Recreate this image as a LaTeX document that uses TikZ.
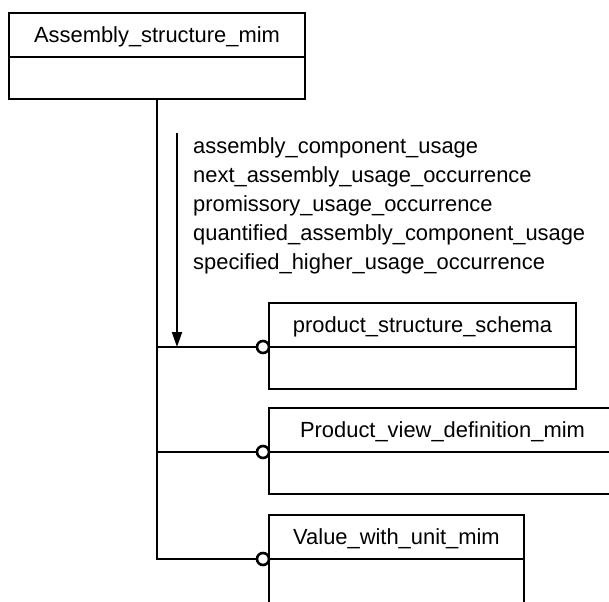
\documentclass[tikz,border=0pt]{standalone}
\usepackage{fontspec}
\setmainfont{Liberation Sans}
\usetikzlibrary{positioning,arrows.meta}

\tikzset{
  schemahead/.style={draw, line width=2.8pt, outer sep=0pt, inner sep=0pt,
    minimum height=44pt, text height=15.5pt, text depth=0pt,
    font=\fontsize{21.9}{26}\selectfont},
  schemabody/.style={draw, line width=2.8pt, outer sep=0pt, inner sep=0pt,
    minimum height=42pt},
  joint/.style={circle, draw, fill=white, line width=2.6pt, outer sep=0pt,
    inner sep=0pt, minimum size=12pt},
  link/.style={line width=2.6pt},
}

\begin{document}
\begin{tikzpicture}[x=1pt, y=-1pt, >={Triangle[length=15pt,width=10pt]}]
      \useasboundingbox (0, 0) rectangle (609, 601);
      \clip (0, 0) rectangle (609, 601);

      % source schema
      \node[schemahead, minimum width=296pt] (asm) at (157, 35) {Assembly\_structure\_mim};
      \node[schemabody, minimum width=296pt, below=0pt of asm] (asmbody) {};

      % referenced schemas
      \node[schemahead, minimum width=307pt, anchor=south west] (pss) at (269, 347) {product\_structure\_schema};
      \node[schemabody, minimum width=307pt, below=0pt of pss] (pssbody) {};

      \node[schemahead, minimum width=347pt, anchor=south west] (pvd) at (269, 452) {Product\_view\_definition\_mim};
      \node[schemabody, minimum width=347pt, below=0pt of pvd] (pvdbody) {};

      \node[schemahead, minimum width=255pt, anchor=south west] (vwu) at (269, 559) {Value\_with\_unit\_mim};
      \node[schemabody, minimum width=255pt, minimum height=50pt, below=0pt of vwu] (vwubody) {};

      \node[joint, left=0pt of pss.south west] (pssjoint) {};
      \node[joint, left=0pt of pvd.south west] (pvdjoint) {};
      \node[joint, left=0pt of vwu.south west] (vwujoint) {};

      % use from links
      \draw[link] (asmbody.south) |- (vwujoint.west);
      \draw[link] (pssjoint.west) -- (pssjoint.west -| asmbody.south);
      \draw[link] (pvdjoint.west) -- (pvdjoint.west -| asmbody.south);

      % interfaced entities
      \coordinate (arrtop) at (177, 133);
      \draw[link, line width=2pt, ->] (arrtop) -- (arrtop |- pssjoint);
      \node[anchor=base west, align=left, inner sep=0pt,
        font=\fontsize{21.9}{28.8}\selectfont] (roles) at (193, 269)
        {assembly\_component\_usage\\
         next\_assembly\_usage\_occurrence\\
         promissory\_usage\_occurrence\\
         quantified\_assembly\_component\_usage\\
         specified\_higher\_usage\_occurrence};
\end{tikzpicture}
\end{document}
